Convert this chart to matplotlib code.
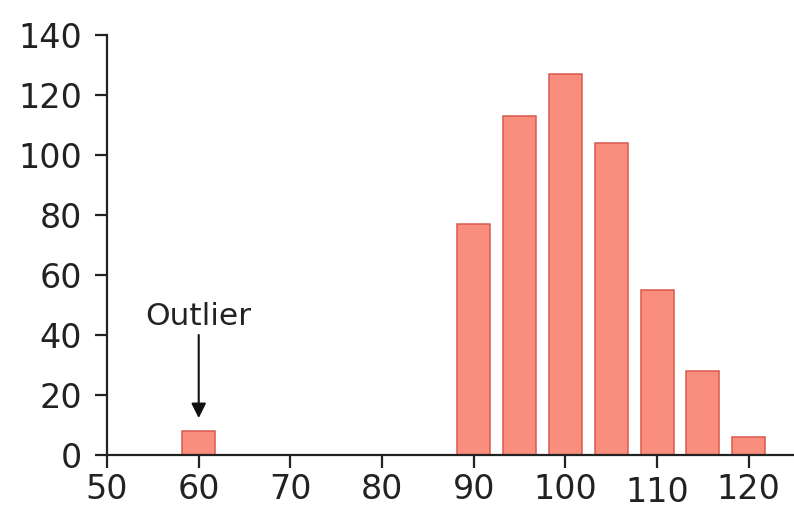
import matplotlib
matplotlib.use("Agg")
import matplotlib.pyplot as plt
import matplotlib.transforms as mtransforms

plt.rcParams['font.family'] = ['DejaVu Sans']

# Histogram bins (centres) and counts
bin_centers = [60, 90, 95, 100, 105, 110, 115, 120]
counts = [8, 77, 113, 127, 104, 55, 28, 6]
x_ticks = [50, 60, 70, 80, 90, 100, 110, 120]
y_ticks = [0, 20, 40, 60, 80, 100, 120, 140]

fig = plt.figure(figsize=(7.94, 5.08), dpi=100)
ax = fig.add_axes([0.1348, 0.1043, 0.866, 0.8268])

ax.bar(bin_centers, counts, width=3.6, color='#FA8E7C', edgecolor='#D9584F',
       linewidth=1.1, zorder=2)

ax.set_xlim(50, 125)
ax.set_ylim(0, 140)
ax.set_xticks(x_ticks)
ax.set_yticks(y_ticks)

for side in ('top', 'right'):
    ax.spines[side].set_visible(False)
for side in ('left', 'bottom'):
    ax.spines[side].set_linewidth(1.6)
    ax.spines[side].set_color('#222222')

ax.tick_params(axis='both', labelsize=24, length=9, width=1.6, color='#222222',
               labelcolor='#222222')
ax.tick_params(axis='x', pad=4)
ax.tick_params(axis='y', pad=9)

# the "110" label sits a little lower than its neighbours
for lbl in ax.get_xticklabels():
    if lbl.get_text() == '110':
        lbl.set_transform(lbl.get_transform() +
                          mtransforms.ScaledTranslation(0, -3 / 100, fig.dpi_scale_trans))

ax.text(60, 43.3, 'Outlier', ha='center', va='baseline', fontsize=22.5,
        color='#222222')
ax.annotate('', xy=(60, 12.3), xytext=(60, 40),
            arrowprops=dict(arrowstyle='-|>', color='#111111', lw=1.5,
                            mutation_scale=22, shrinkA=0, shrinkB=0))

fig.savefig('out.png', dpi=100)
